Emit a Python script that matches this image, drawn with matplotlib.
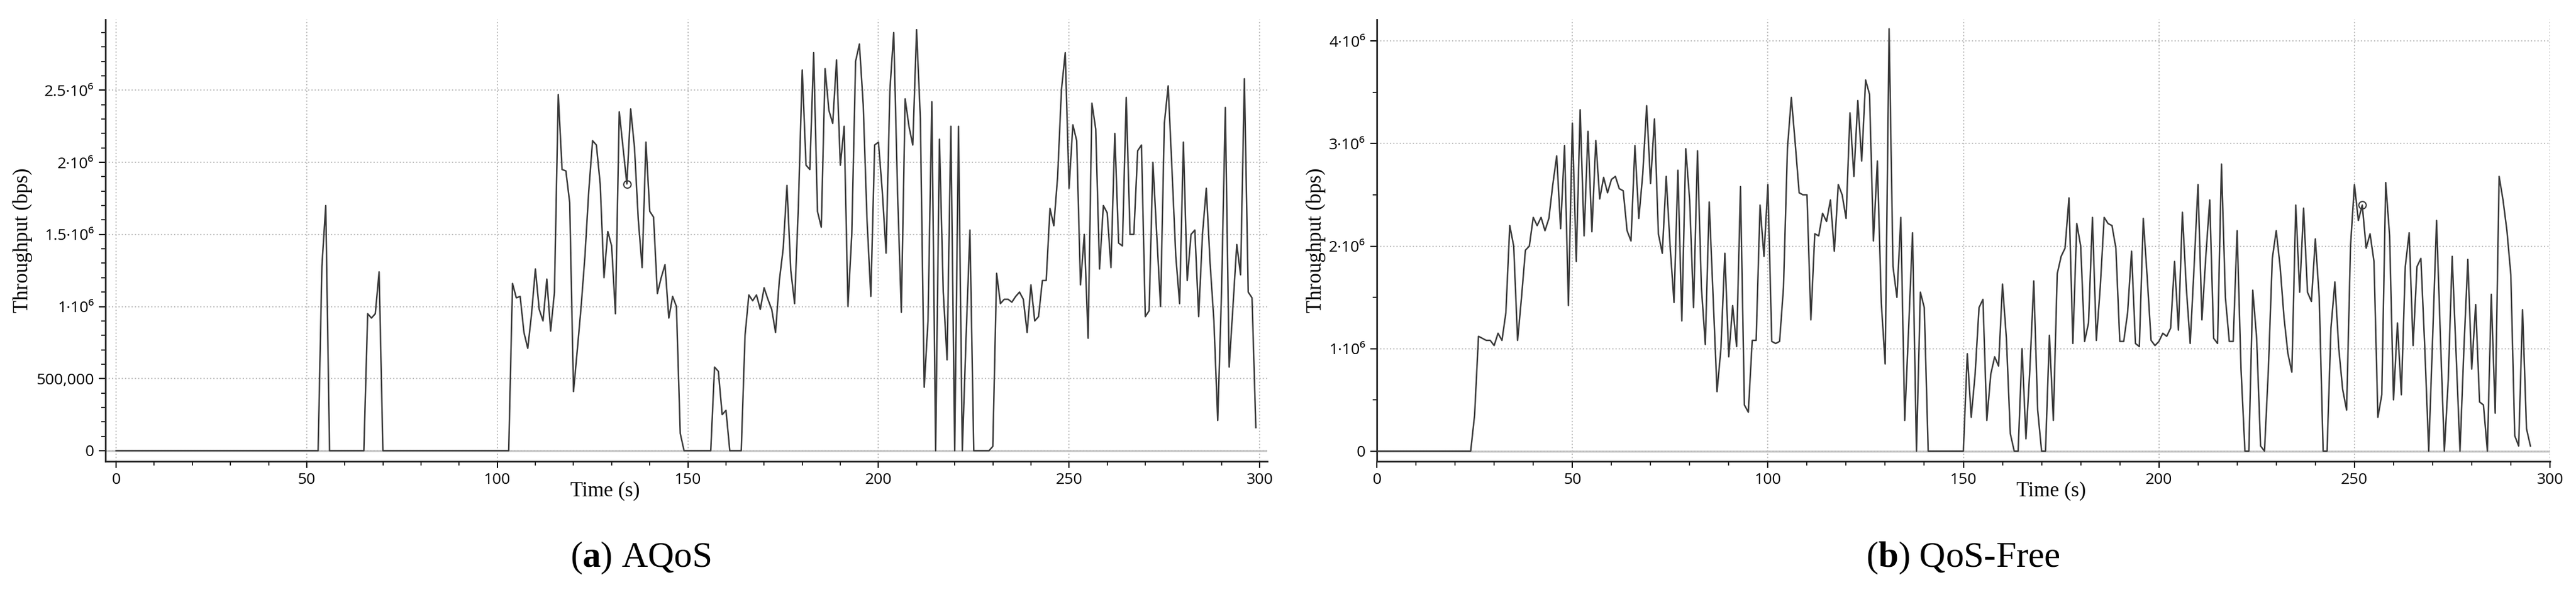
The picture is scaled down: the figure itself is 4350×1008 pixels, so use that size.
import numpy as np
import matplotlib.pyplot as plt
from matplotlib.ticker import FixedLocator, MultipleLocator

plt.rcParams["mathtext.fontset"] = "custom"
plt.rcParams["mathtext.bf"] = "Liberation Serif:bold"
plt.rcParams["mathtext.rm"] = "Liberation Serif"

# AQoS throughput (1e6 bps)
aqos_t = [0, 53, 54, 55, 56, 65, 66, 67, 68, 69, 70, 103, 104, 105, 106, 107, 108, 109, 110,
          111, 112, 113, 114, 115, 116, 117, 118, 119, 120, 121, 122, 123, 124, 125, 126, 127,
          128, 129, 130, 131, 132, 133, 134, 135, 136, 137, 138, 139, 140, 141, 142, 143, 144,
          145, 146, 147, 148, 149, 156, 157, 158, 159, 160, 161, 164, 165, 166, 167, 168, 169,
          170, 171, 172, 173, 174, 175, 176, 177, 178, 179, 180, 181, 182, 183, 184, 185, 186,
          187, 188, 189, 190, 191, 192, 193, 194, 195, 196, 197, 198, 199, 200, 201, 202, 203,
          204, 205, 206, 207, 208, 209, 210, 211, 212, 213, 214, 215, 216, 217, 218, 219, 220,
          221, 222, 223, 224, 225, 229, 230, 231, 232, 233, 234, 235, 236, 237, 238, 239, 240,
          241, 242, 243, 244, 245, 246, 247, 248, 249, 250, 251, 252, 253, 254, 255, 256, 257,
          258, 259, 260, 261, 262, 263, 264, 265, 266, 267, 268, 269, 270, 271, 272, 273, 274,
          275, 276, 277, 278, 279, 280, 281, 282, 283, 284, 285, 286, 287, 288, 289, 290, 291,
          292, 293, 294, 295, 296, 297, 298, 299]
aqos_v = [0, 0, 1.28, 1.70, 0, 0, 0.95, 0.92, 0.95, 1.24, 0, 0, 1.16, 1.06, 1.07, 0.82, 0.71, 0.95, 1.26,
          0.98, 0.90, 1.19, 0.83, 1.10, 2.47, 1.95, 1.94, 1.72, 0.41, 0.70, 1.00, 1.35, 1.80, 2.15, 2.12, 1.85,
          1.20, 1.52, 1.42, 0.95, 2.35, 2.10, 1.85, 2.37, 2.10, 1.60, 1.27, 2.14, 1.66, 1.62, 1.09, 1.20, 1.29,
          0.92, 1.07, 1.00, 0.12, 0, 0, 0.58, 0.55, 0.25, 0.28, 0, 0, 0.80, 1.08, 1.04, 1.08, 0.98,
          1.13, 1.05, 0.98, 0.82, 1.18, 1.40, 1.84, 1.25, 1.02, 1.70, 2.64, 1.98, 1.95, 2.76, 1.66, 1.55, 2.65,
          2.36, 2.27, 2.71, 1.98, 2.25, 1.00, 1.50, 2.70, 2.82, 2.40, 1.60, 1.07, 2.12, 2.14, 1.80, 1.37, 2.50,
          2.90, 1.80, 0.96, 2.44, 2.25, 2.12, 2.92, 2.30, 0.44, 0.90, 2.42, 0, 2.16, 1.10, 0.63, 2.25, 0,
          2.25, 0, 0.80, 1.53, 0, 0, 0.03, 1.23, 1.02, 1.05, 1.05, 1.03, 1.07, 1.10, 1.05, 0.82, 1.15,
          0.90, 0.93, 1.18, 1.18, 1.68, 1.56, 1.90, 2.50, 2.76, 1.82, 2.26, 2.15, 1.15, 1.50, 0.78, 2.41, 2.23,
          1.26, 1.70, 1.65, 1.27, 2.20, 1.44, 1.42, 2.45, 1.50, 1.50, 2.08, 2.12, 0.93, 0.97, 2.00, 1.50, 1.00,
          2.27, 2.53, 1.95, 1.35, 1.02, 2.14, 1.18, 1.50, 1.53, 0.93, 1.50, 1.82, 1.30, 0.90, 0.21, 1.10, 2.38,
          0.58, 1.00, 1.43, 1.22, 2.58, 1.10, 1.06, 0.16]

# QoS-Free throughput (1e6 bps)
free_t = [0, 24, 25, 26, 27, 28, 29, 30, 31, 32, 33, 34, 35, 36, 37, 38, 39, 40, 41, 42, 43, 44,
          45, 46, 47, 48, 49, 50, 51, 52, 53, 54, 55, 56, 57, 58, 59, 60, 61, 62, 63, 64, 65, 66,
          67, 68, 69, 70, 71, 72, 73, 74, 75, 76, 77, 78, 79, 80, 81, 82, 83, 84, 85, 86, 87, 88,
          89, 90, 91, 92, 93, 94, 95, 96, 97, 98, 99, 100, 101, 102, 103, 104, 105, 106, 107, 108,
          109, 110, 111, 112, 113, 114, 115, 116, 117, 118, 119, 120, 121, 122, 123, 124, 125, 126,
          127, 128, 129, 130, 131, 132, 133, 134, 135, 136, 137, 138, 139, 140, 141, 150, 151, 152,
          153, 154, 155, 156, 157, 158, 159, 160, 161, 162, 163, 164, 165, 166, 167, 168, 169, 170,
          171, 172, 173, 174, 175, 176, 177, 178, 179, 180, 181, 182, 183, 184, 185, 186, 187, 188,
          189, 190, 191, 192, 193, 194, 195, 196, 197, 198, 199, 200, 201, 202, 203, 204, 205, 206,
          207, 208, 209, 210, 211, 212, 213, 214, 215, 216, 217, 218, 219, 220, 221, 222, 223, 224,
          225, 226, 227, 228, 229, 230, 231, 232, 233, 234, 235, 236, 237, 238, 239, 240, 241, 242,
          243, 244, 245, 246, 247, 248, 249, 250, 251, 252, 253, 254, 255, 256, 257, 258, 259, 260,
          261, 262, 263, 264, 265, 266, 267, 268, 269, 270, 271, 272, 273, 274, 275, 276, 277, 278,
          279, 280, 281, 282, 283, 284, 285, 286, 287, 288, 289, 290, 291, 292, 293, 294, 295]
free_v = [0, 0, 0.35, 1.12, 1.10, 1.08, 1.08, 1.03, 1.15, 1.08, 1.35, 2.20, 2.00, 1.08, 1.50, 1.96, 2.00, 2.28, 2.20, 2.28, 2.15, 2.27,
          2.60, 2.88, 2.17, 2.98, 1.42, 3.20, 1.85, 3.33, 2.10, 3.12, 2.14, 3.03, 2.46, 2.67, 2.52, 2.65, 2.68, 2.56, 2.54, 2.15, 2.05, 2.98,
          2.27, 2.70, 3.37, 2.61, 3.24, 2.12, 1.93, 2.68, 2.00, 1.45, 2.74, 1.27, 2.95, 2.45, 1.40, 2.93, 1.60, 1.04, 2.43, 1.50, 0.58, 1.00,
          1.93, 0.92, 1.42, 1.02, 2.58, 0.45, 0.38, 1.08, 1.08, 2.40, 1.90, 2.60, 1.07, 1.05, 1.07, 1.60, 2.95, 3.45, 3.00, 2.52,
          2.50, 2.50, 1.28, 2.12, 2.10, 2.32, 2.24, 2.45, 1.95, 2.60, 2.50, 2.27, 3.30, 2.68, 3.42, 2.83, 3.62, 3.48,
          2.05, 2.83, 1.45, 0.85, 4.12, 1.80, 1.50, 2.28, 0.30, 1.20, 2.13, 0, 1.55, 1.40, 0, 0, 0.95, 0.33,
          0.75, 1.40, 1.48, 0.30, 0.75, 0.92, 0.83, 1.63, 1.10, 0.17, 0, 0, 1.00, 0.12, 0.80, 1.66, 0.40, 0,
          0, 1.13, 0.30, 1.73, 1.90, 1.98, 2.47, 1.05, 2.22, 2.00, 1.07, 1.25, 2.28, 1.08, 1.60, 2.28, 2.22, 2.20,
          1.98, 1.07, 1.07, 1.35, 1.95, 1.05, 1.02, 2.27, 1.70, 1.08, 1.03, 1.07, 1.15, 1.12, 1.20, 1.85, 1.18, 2.33,
          1.60, 1.05, 1.80, 2.60, 1.28, 1.90, 2.45, 1.10, 1.05, 2.80, 1.50, 1.07, 1.07, 2.15, 0.80, 0, 0, 1.57,
          1.10, 0.05, 0, 0.80, 1.88, 2.15, 1.80, 1.30, 0.95, 0.77, 2.40, 1.55, 2.37, 1.55, 1.46, 2.07, 1.50, 0,
          0, 1.20, 1.65, 1.00, 0.60, 0.40, 2.00, 2.60, 2.25, 2.40, 1.98, 2.12, 1.85, 0.33, 0.55, 2.62, 2.10, 0.50,
          1.25, 0.55, 1.80, 2.13, 1.03, 1.80, 1.88, 1.00, 0, 1.10, 2.25, 1.10, 0, 0.70, 1.90, 0.95, 0, 1.00,
          1.87, 0.80, 1.43, 0.48, 0.45, 0.0, 1.53, 0.37, 2.68, 2.45, 2.15, 1.72, 0.15, 0.05, 1.38, 0.22, 0.05]

aqos_mark = (134, 1.85)
free_mark = (252, 2.40)

aqos_yticks = [0, 0.5e6, 1e6, 1.5e6, 2e6, 2.5e6]
aqos_ylabels = ["0", "500,000", "1·10⁶", "1.5·10⁶", "2·10⁶", "2.5·10⁶"]
free_yticks = [0, 1e6, 2e6, 3e6, 4e6]
free_ylabels = ["0", "1·10⁶", "2·10⁶", "3·10⁶", "4·10⁶"]

W, H = 4350, 1008
fig = plt.figure(figsize=(W / 100, H / 100), dpi=100)

TICK_FONT = "Open Sans"
SERIF = "Liberation Serif"
LINE = "#3a3a3a"


def draw_panel(rect, t, v, mark, xlim, ylim, yticks, ylabels, yminor, xlabel_x, letter, name, caption_x):
    ax = fig.add_axes(rect)
    t = np.array(t)
    v = np.array(v) * 1e6
    ax.axhline(0, color="#c8c8c8", lw=2.5, zorder=1)
    ax.plot(t, v, color=LINE, lw=1.8, zorder=3)
    ax.plot([mark[0]], [mark[1] * 1e6], marker="o", ms=9, mfc="none", mec=LINE, mew=1.5, zorder=4)

    ax.set_xlim(*xlim)
    ax.set_ylim(*ylim)
    ax.xaxis.set_major_locator(MultipleLocator(50))
    ax.xaxis.set_minor_locator(MultipleLocator(10))
    ax.yaxis.set_major_locator(FixedLocator(yticks))
    ax.set_yticklabels(ylabels)
    ax.yaxis.set_minor_locator(MultipleLocator(yminor))
    ax.grid(True, which="major", color="#bdbdbd", ls=":", lw=1.5)

    for s in ["top", "right"]:
        ax.spines[s].set_visible(False)
    for s in ["left", "bottom"]:
        ax.spines[s].set_linewidth(2)
        ax.spines[s].set_color("#222222")

    ax.tick_params(which="major", direction="out", length=8, width=1.5, labelsize=19, pad=6)
    ax.tick_params(which="minor", direction="out", length=5, width=1.2)
    for lab in ax.get_xticklabels() + ax.get_yticklabels():
        lab.set_fontfamily(TICK_FONT)

    ax.set_xlabel("Time (s)", fontfamily=SERIF, fontsize=25)
    ax.xaxis.set_label_coords(xlabel_x, -0.045)
    ax.set_ylabel("Throughput (bps)", fontfamily=SERIF, fontsize=25)

    caption = r"($\mathbf{" + letter + r"}$) " + name
    fig.text(caption_x, 0.065, caption, ha="center", va="center", fontfamily=SERIF, fontsize=44)
    return ax


ax1 = draw_panel([178 / W, 1 - 779 / H, (2140 - 178) / W, (779 - 33) / H],
                 aqos_t, aqos_v, aqos_mark, (-2.8, 302), (-0.074e6, 2.99e6),
                 aqos_yticks, aqos_ylabels, 0.1e6, 0.43,
                 "a", "AQoS", 1082 / W)
ax2 = draw_panel([2325 / W, 1 - 779 / H, (4306 - 2325) / W, (779 - 33) / H],
                 free_t, free_v, free_mark, (0, 300), (-0.10e6, 4.21e6),
                 free_yticks, free_ylabels, 0.5e6, 0.575,
                 "b", "QoS-Free", 3315 / W)

fig.savefig("out.png", dpi=100, facecolor="white")
